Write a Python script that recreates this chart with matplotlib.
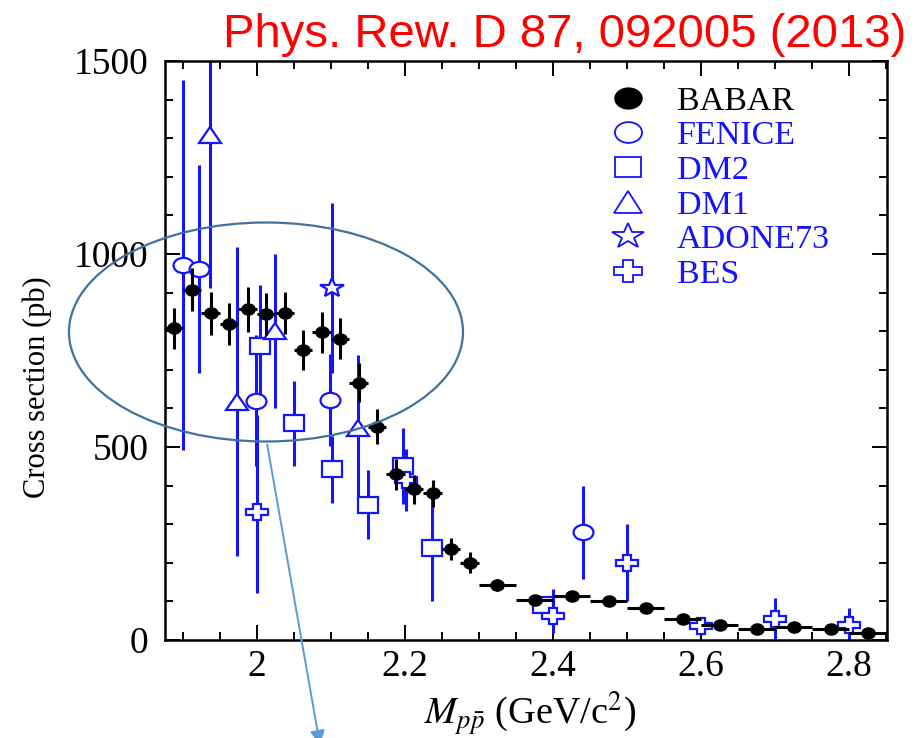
import numpy as np
import matplotlib
matplotlib.use("Agg")
import matplotlib.pyplot as plt
import matplotlib.ticker as ticker
from matplotlib.markers import MarkerStyle
from matplotlib.transforms import Affine2D
from matplotlib.lines import Line2D
from matplotlib.patches import Ellipse, FancyArrowPatch

plt.rcParams['font.family'] = ['Liberation Serif', 'DejaVu Serif']
plt.rcParams['mathtext.fontset'] = 'stix'

# e+e- -> p pbar cross section, BABAR ISR measurement
babar_m = [1.8875, 1.9125, 1.9375, 1.9625, 1.9875, 2.0125, 2.0375, 2.0625, 2.0875,
           2.1125, 2.1375, 2.1625, 2.1875, 2.2125, 2.2375, 2.2625, 2.2875,
           2.325, 2.375, 2.425, 2.475, 2.525, 2.575, 2.625, 2.675, 2.725, 2.775, 2.825]
babar_bw = [0.0125] * 17 + [0.025] * 11
babar_xs = [807, 908, 846, 818, 857, 844, 848, 751, 797, 780, 667, 553, 429, 390, 380,
            235, 200, 142, 104, 115, 101, 84, 54, 39, 28, 34, 29, 17]
babar_err = [52, 55, 56, 54, 58, 54, 54, 52, 53, 53, 50, 46, 40, 37, 35, 28, 27,
             15, 12, 10, 8, 7, 6, 5, 4, 4, 4, 3]

# older experiments
fenice_m = [1.900, 1.922, 1.999, 2.099, 2.440]
fenice_xs = [971, 961, 620, 622, 279]
fenice_err = [480, 270, 170, 120, 120]

dm2_m = [2.004, 2.050, 2.102, 2.150, 2.198, 2.237, 2.386]
dm2_xs = [762, 561, 442, 351, 450, 239, 90]
dm2_err = [158, 110, 87, 90, 98, 137, 25]

dm1_m = [1.937, 1.973, 2.025, 2.136]
dm1_xs = [1308, 617, 800, 548]
dm1_err = [395, 400, 200, 190]

adone_m = [2.102]
adone_xs = [911]
adone_err = [220]

bes_m = [2.000, 2.202, 2.400, 2.500, 2.600, 2.700, 2.800]
bes_xs = [331, 415, 62, 200, 35, 54, 39]
bes_err_lo = [210, 80, 45, 100, 20, 54, 39]
bes_err_hi = [252, 80, 70, 100, 20, 55, 43]

BLUE = '#1414ff'
W, H = 917, 738

fig = plt.figure(figsize=(W / 100, H / 100), dpi=100)
ax = fig.add_axes([165 / W, 98 / H, 722 / W, 579 / H])


def mk(shape, sx=1.3):
    return MarkerStyle(shape, transform=Affine2D().scale(sx, 1.0))


def blue_set(m, xs, err, shape, ms=11):
    ax.errorbar(m, xs, yerr=err, fmt='none', ecolor=BLUE, elinewidth=2.2,
                capsize=0, zorder=2)
    ax.plot(m, xs, ls='none', marker=mk(shape), ms=ms, mfc='white', mec=BLUE,
            mew=1.6, zorder=3)


blue_set(fenice_m, fenice_xs, fenice_err, 'o')
blue_set(dm2_m, dm2_xs, dm2_err, 's')
blue_set(dm1_m, dm1_xs, dm1_err, '^', ms=12)
blue_set(adone_m, adone_xs, adone_err, '*', ms=14)
blue_set(bes_m, bes_xs, [bes_err_lo, bes_err_hi], 'P', ms=12)

ax.errorbar(babar_m, babar_xs, yerr=babar_err, xerr=babar_bw, fmt='none',
            ecolor='black', elinewidth=2.2, capsize=0, zorder=4)
ax.plot(babar_m, babar_xs, ls='none', marker=mk('o', 1.2), ms=8, color='black',
        zorder=5)

ax.set_xlim(1.876, 2.851)
ax.set_ylim(0, 1500)
ax.xaxis.set_major_locator(ticker.MultipleLocator(0.2))
ax.xaxis.set_minor_locator(ticker.MultipleLocator(0.05))
ax.yaxis.set_major_locator(ticker.MultipleLocator(500))
ax.yaxis.set_minor_locator(ticker.MultipleLocator(100))
ax.xaxis.set_major_formatter(ticker.FormatStrFormatter('%g'))
ax.tick_params(which='both', direction='in', top=True, right=True, width=1.4,
               labelsize=27)
ax.tick_params(which='major', length=11)
ax.tick_params(which='minor', length=6)
ax.tick_params(axis='y', pad=12)
ax.tick_params(axis='x', pad=7)
for s in ax.spines.values():
    s.set_linewidth(1.8)

ax.set_ylabel('Cross section (pb)', fontsize=22, va='center')
ax.yaxis.set_label_coords(-0.177, 0.437)
ax.set_xlabel(r'$M_{p\bar{p}}$ (GeV/c$^2$)', fontsize=27.5, va='center')
ax.xaxis.set_label_coords(0.506, -0.128)

# legend
handles = [
    Line2D([], [], ls='none', marker=mk('o'), ms=15, color='black'),
    Line2D([], [], ls='none', marker=mk('o'), ms=15, mfc='white', mec=BLUE, mew=1.3),
    Line2D([], [], ls='none', marker=mk('s'), ms=14, mfc='white', mec=BLUE, mew=1.3),
    Line2D([], [], ls='none', marker=mk('^'), ms=16, mfc='white', mec=BLUE, mew=1.3),
    Line2D([], [], ls='none', marker=mk('*'), ms=19, mfc='white', mec=BLUE, mew=1.3),
    Line2D([], [], ls='none', marker=mk('P'), ms=16, mfc='white', mec=BLUE, mew=1.3),
]
labels = ['BABAR', 'FENICE', 'DM2', 'DM1', 'ADONE73', 'BES']
ax.legend(handles, labels, loc='upper left', bbox_to_anchor=(611 / W, 1 - 86 / H),
          bbox_transform=fig.transFigure, frameon=False, fontsize=24.5,
          handlelength=1.0, handletextpad=0.93, labelspacing=0.11, borderpad=0,
          borderaxespad=0, labelcolor=['black'] + [BLUE] * 5)

# highlighted region and pointer
fig.patches.append(Ellipse((266 / W, 1 - 332 / H), 394 / W, 219 / H,
                           transform=fig.transFigure, fill=False,
                           ec='#41719c', lw=1.6, zorder=10))
fig.patches.append(FancyArrowPatch((266.7 / W, 1 - 441.7 / H), (320.5 / W, 1 - 748 / H),
                                   transform=fig.transFigure, arrowstyle='-|>',
                                   mutation_scale=22, color='#5b9bd5', lw=1.4,
                                   zorder=10))

fig.text(906 / W, 1 - 47 / H, 'Phys. Rew. D 87, 092005 (2013)', ha='right',
         va='baseline', fontsize=34, color='#ff0000', family='Liberation Sans')

fig.savefig('out.png', dpi=100)
